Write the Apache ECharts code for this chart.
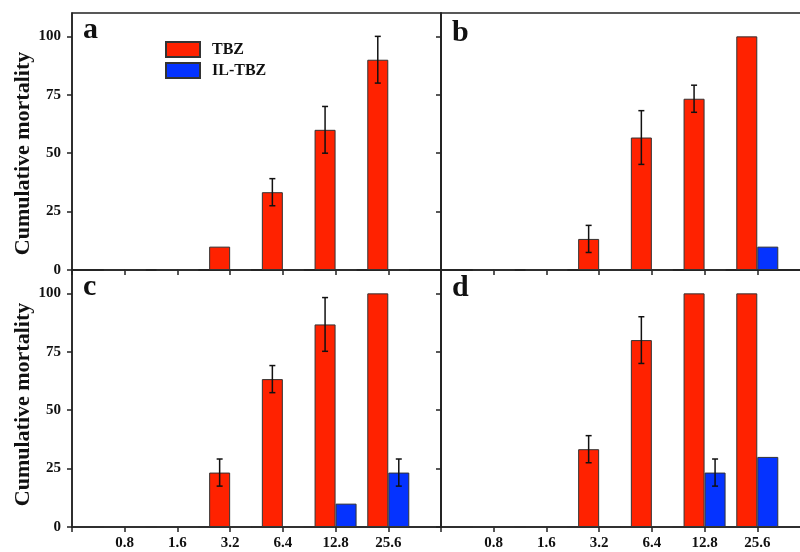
<!DOCTYPE html>
<html>
<head>
<meta charset="utf-8">
<script src="https://cdn.jsdelivr.net/npm/echarts@6/dist/echarts.min.js"></script>
<style>html,body{margin:0;padding:0;background:#fff;}#c{width:800px;height:552px;}</style>
</head>
<body>
<div id="c"></div>
<script>
// ---- data ----
const categories = ['0.8', '1.6', '3.2', '6.4', '12.8', '25.6'];
const seriesNames = ['TBZ', 'IL-TBZ'];
const yTicks = [0, 25, 50, 75, 100];
const panelLabels = ['a', 'b', 'c', 'd'];

const tbzA = [0, 0, 10, 33.3, 60, 90];
const tbzErrA = [0, 0, 0, 5.8, 10, 10];
const ilA = [0, 0, 0, 0, 0, 0];
const ilErrA = [0, 0, 0, 0, 0, 0];

const tbzB = [0, 0, 13.3, 56.7, 73.3, 100];
const tbzErrB = [0, 0, 5.8, 11.5, 5.8, 0];
const ilB = [0, 0, 0, 0, 0, 10];
const ilErrB = [0, 0, 0, 0, 0, 0];

const tbzC = [0, 0, 23.3, 63.3, 86.7, 100];
const tbzErrC = [0, 0, 5.8, 5.8, 11.5, 0];
const ilC = [0, 0, 0, 0, 10, 23.3];
const ilErrC = [0, 0, 0, 0, 0, 5.8];

const tbzD = [0, 0, 33.3, 80, 100, 100];
const tbzErrD = [0, 0, 5.8, 10, 0, 0];
const ilD = [0, 0, 0, 0, 23.3, 30];
const ilErrD = [0, 0, 0, 0, 5.8, 0];

// ---- build ----
const panels = [
  { tbz: tbzA, tbzErr: tbzErrA, il: ilA, ilErr: ilErrA },
  { tbz: tbzB, tbzErr: tbzErrB, il: ilB, ilErr: ilErrB },
  { tbz: tbzC, tbzErr: tbzErrC, il: ilC, ilErr: ilErrC },
  { tbz: tbzD, tbzErr: tbzErrD, il: ilD, ilErr: ilErrD }
];
const FONT = 'Liberation Serif';
const RED = '#ff2200', BLUE = '#0533ff';
const BAR_W = 21;
const axisCats = [''].concat(categories).concat(['']);
const lineStyle = { color: '#222', width: 1.5 };

const gridPos = [
  { left: 72, top: 13, width: 369, height: 257 },
  { left: 441, top: 13, width: 369, height: 257 },
  { left: 72, top: 270, width: 369, height: 257 },
  { left: 441, top: 270, width: 369, height: 257 }
];
const titleShift = [24, 0, 12, 0];
const grids = gridPos.map(g => Object.assign({
  show: true, borderColor: '#222', borderWidth: 1.5, backgroundColor: 'transparent',
  containLabel: false, outerBoundsMode: 'none'
}, g));

const xAxes = gridPos.map((g, i) => ({
  type: 'category', gridIndex: i, data: axisCats, boundaryGap: false,
  axisLine: { lineStyle: lineStyle },
  axisTick: { show: true, length: 5, lineStyle: lineStyle, interval: 0 },
  axisLabel: { show: i >= 2, interval: 0, margin: 9, fontFamily: FONT, fontWeight: 'bold', fontSize: 15, color: '#111' },
  splitLine: { show: false }
}));
const yAxes = gridPos.map((g, i) => ({
  type: 'value', gridIndex: i, min: 0, max: 110, interval: 25,
  name: (i % 2 === 0) ? 'Cumulative mortality' : '',
  nameLocation: 'middle', nameGap: 38,
  nameTextStyle: { fontFamily: FONT, fontWeight: 'bold', fontSize: 22, color: '#111', padding: [0, titleShift[i], 0, 0] },
  axisLine: { show: true, lineStyle: lineStyle },
  axisTick: { show: true, length: 5, lineStyle: lineStyle, customValues: yTicks },
  axisLabel: { show: i % 2 === 0, margin: 11, fontFamily: FONT, fontWeight: 'bold', fontSize: 15, color: '#111', customValues: yTicks },
  splitLine: { show: false }
}));

function padData(vals) { return ['-'].concat(vals).concat(['-']); }
function errData(vals, errs) {
  const out = [];
  vals.forEach((v, k) => { if (errs[k] > 0) out.push([k + 1, v, errs[k]]); });
  return out;
}
function errSeries(i, data, offset) {
  return {
    type: 'custom', xAxisIndex: i, yAxisIndex: i, z: 5, silent: true,
    data: data, encode: { x: 0, y: 1 },
    renderItem: function (params, api) {
      const x = api.value(0), v = api.value(1), e = api.value(2);
      const hi = api.coord([x, v + e]);
      const lo = api.coord([x, v - e]);
      const cx = hi[0] + offset;
      const cap = 3;
      const st = { stroke: '#111', lineWidth: 1.5 };
      return {
        type: 'group', children: [
          { type: 'line', shape: { x1: cx, y1: hi[1], x2: cx, y2: lo[1] }, style: st },
          { type: 'line', shape: { x1: cx - cap, y1: hi[1], x2: cx + cap, y2: hi[1] }, style: st },
          { type: 'line', shape: { x1: cx - cap, y1: lo[1], x2: cx + cap, y2: lo[1] }, style: st }
        ]
      };
    }
  };
}

const series = [];
panels.forEach((p, i) => {
  series.push({
    name: seriesNames[0], type: 'bar', xAxisIndex: i, yAxisIndex: i,
    data: padData(p.tbz), barWidth: BAR_W, barGap: '0%',
    itemStyle: { color: RED, borderColor: '#333', borderWidth: 1 }
  });
  series.push({
    name: seriesNames[1], type: 'bar', xAxisIndex: i, yAxisIndex: i,
    data: padData(p.il), barWidth: BAR_W, barGap: '0%',
    itemStyle: { color: BLUE, borderColor: '#333', borderWidth: 1 }
  });
  series.push(errSeries(i, errData(p.tbz, p.tbzErr), -BAR_W / 2));
  series.push(errSeries(i, errData(p.il, p.ilErr), BAR_W / 2));
});

const letterPos = [
  { x: 83, y: 30 }, { x: 452, y: 33 }, { x: 83, y: 287 }, { x: 452, y: 288 }
];
const graphics = panelLabels.map((t, i) => ({
  type: 'text', left: letterPos[i].x, top: letterPos[i].y - 15,
  style: { text: t, font: 'bold 30px "Liberation Serif"', fill: '#111' }
}));

const chart = echarts.init(document.getElementById('c'), null, { renderer: 'canvas' });
chart.setOption({
  animation: false,
  backgroundColor: '#fff',
  grid: grids,
  xAxis: xAxes,
  yAxis: yAxes,
  legend: {
    data: seriesNames, orient: 'vertical', left: 165, top: 41,
    itemWidth: 34, itemHeight: 15, itemGap: 4, padding: 0,
    icon: 'rect',
    textStyle: { fontFamily: FONT, fontWeight: 'bold', fontSize: 16, color: '#111', padding: [0, 0, 0, 7] }
  },
  graphic: graphics,
  series: series
});
</script>
</body>
</html>
